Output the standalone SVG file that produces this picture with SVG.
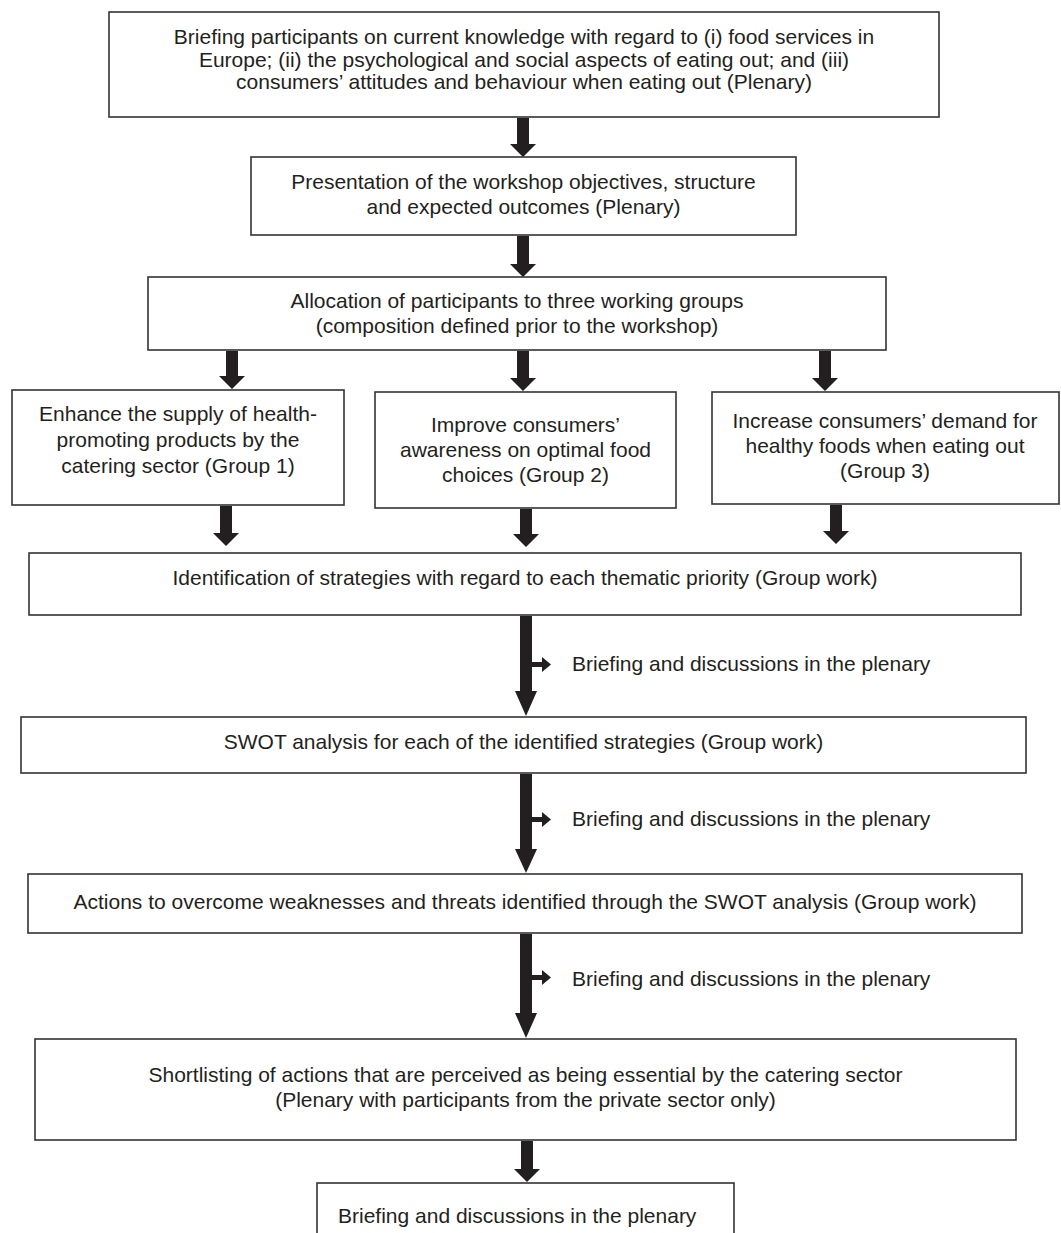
<svg xmlns="http://www.w3.org/2000/svg" width="1061" height="1233" viewBox="0 0 1061 1233">
<defs>
<style>
.box{fill:#fff;stroke:#333;stroke-width:1.6}
.t{font-family:"Liberation Sans",Arial,Helvetica,sans-serif;font-size:21px;fill:#231f20;text-anchor:middle}
.l{font-family:"Liberation Sans",Arial,Helvetica,sans-serif;font-size:21px;fill:#231f20}
.ar{fill:#231f20}
</style>
</defs>
<rect width="1061" height="1233" fill="#fff"/>
<g id="connectors">
<path class="ar" d="M517,118 H529 V144 H536 L523,157 L510,144 H517 Z"/>
<path class="ar" d="M517,236 H529 V264 H536 L523,277 L510,264 H517 Z"/>
<path class="ar" d="M226,351 H238 V376 H245 L232,389 L219,376 H226 Z"/>
<path class="ar" d="M517,351 H529 V378 H536 L523,391 L510,378 H517 Z"/>
<path class="ar" d="M819,351 H831 V378 H838 L825,391 L812,378 H819 Z"/>
<path class="ar" d="M220,506 H232 V533 H239 L226,546 L213,533 H220 Z"/>
<path class="ar" d="M520,509 H532 V534 H539 L526,547 L513,534 H520 Z"/>
<path class="ar" d="M830,505 H842 V531 H849 L836,544 L823,531 H830 Z"/>
<path class="ar" d="M520,616 H532 V662 H542 V657 L551,664.5 L542,672 V667 H532 V691 H537 L526,716 L515,691 H520 Z"/>
<path class="ar" d="M520,774 H532 V817 H542 V812 L551,819.5 L542,827 V822 H532 V849 H537 L526,873 L515,849 H520 Z"/>
<path class="ar" d="M520,934 H532 V975 H542 V970 L551,977.5 L542,985 V980 H532 V1013 H537 L526,1038 L515,1013 H520 Z"/>
<path class="ar" d="M521,1141 H533 V1169 H540 L527,1182 L514,1169 H521 Z"/>
</g>
<g id="n1">
<rect class="box" x="109" y="12" width="830" height="105"/>
<text class="t" x="524" y="44">Briefing participants on current knowledge with regard to (i) food services in</text>
<text class="t" x="524" y="66.5">Europe; (ii) the psychological and social aspects of eating out; and (iii)</text>
<text class="t" x="524" y="88.5">consumers’ attitudes and behaviour when eating out (Plenary)</text>
</g>
<g id="n2">
<rect class="box" x="251" y="157" width="545" height="78"/>
<text class="t" x="523.5" y="189">Presentation of the workshop objectives, structure</text>
<text class="t" x="523.5" y="214">and expected outcomes (Plenary)</text>
</g>
<g id="n3">
<rect class="box" x="148" y="277" width="738" height="73"/>
<text class="t" x="517" y="308">Allocation of participants to three working groups</text>
<text class="t" x="517" y="333">(composition defined prior to the workshop)</text>
</g>
<g id="g1">
<rect class="box" x="12" y="390" width="332" height="115"/>
<text class="t" x="178" y="421">Enhance the supply of health-</text>
<text class="t" x="178" y="447">promoting products by the</text>
<text class="t" x="178" y="473">catering sector (Group 1)</text>
</g>
<g id="g2">
<rect class="box" x="375" y="392" width="301" height="116"/>
<text class="t" x="525.5" y="432">Improve consumers’</text>
<text class="t" x="525.5" y="457">awareness on optimal food</text>
<text class="t" x="525.5" y="482">choices (Group 2)</text>
</g>
<g id="g3">
<rect class="box" x="712" y="392" width="347" height="112"/>
<text class="t" x="885" y="428">Increase consumers’ demand for</text>
<text class="t" x="885" y="453">healthy foods when eating out</text>
<text class="t" x="885" y="478">(Group 3)</text>
</g>
<g id="n4">
<rect class="box" x="29" y="553" width="992" height="62"/>
<text class="t" x="525" y="585">Identification of strategies with regard to each thematic priority (Group work)</text>
</g>
<g id="lab1"><text class="l" x="572" y="671">Briefing and discussions in the plenary</text></g>
<g id="n5">
<rect class="box" x="21" y="717" width="1005" height="56"/>
<text class="t" x="523.5" y="749">SWOT analysis for each of the identified strategies (Group work)</text>
</g>
<g id="lab2"><text class="l" x="572" y="826">Briefing and discussions in the plenary</text></g>
<g id="n6">
<rect class="box" x="28" y="874" width="994" height="59"/>
<text class="t" x="525" y="909">Actions to overcome weaknesses and threats identified through the SWOT analysis (Group work)</text>
</g>
<g id="lab3"><text class="l" x="572" y="986">Briefing and discussions in the plenary</text></g>
<g id="n7">
<rect class="box" x="35" y="1039" width="981" height="101"/>
<text class="t" x="525.5" y="1082">Shortlisting of actions that are perceived as being essential by the catering sector</text>
<text class="t" x="525.5" y="1107">(Plenary with participants from the private sector only)</text>
</g>
<g id="n8">
<rect class="box" x="317" y="1183" width="417" height="70"/>
<text class="l" x="338" y="1223">Briefing and discussions in the plenary</text>
</g>
</svg>
